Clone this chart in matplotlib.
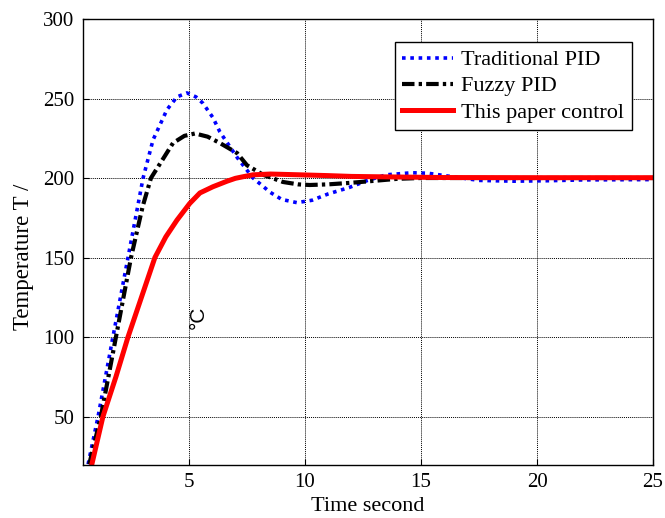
import matplotlib
matplotlib.use("Agg")
import matplotlib.pyplot as plt

# Traditional PID (blue dotted)
t_trad = [0.65, 1.08, 1.72, 2.37, 3.02, 3.45, 4.05, 4.48, 4.91, 5.3, 5.6, 6.03, 6.33, 7.07, 7.76, 8.5, 9.0, 9.65,
          10.3, 11.0, 11.9, 12.7, 13.5, 14.6, 15.3, 16.5, 17.5, 19.0, 20.5, 22.0, 25.0]
y_trad = [20, 50, 100, 150, 200, 224, 243, 251, 253.5, 251, 247, 238, 229, 213, 200, 191, 186.5, 184.5,
          186, 190, 194, 198.5, 202, 203.3, 203, 200.5, 198.5, 198, 198.3, 198.8, 199]

# Fuzzy PID (black dash-dot)
t_fuzzy = [0.7, 1.2, 1.85, 2.5, 3.0, 3.36, 3.75, 4.31, 4.8, 5.26, 5.8, 6.33, 7.07, 7.5, 8.2, 9.05, 9.7, 10.2,
           11.0, 12.0, 13.2, 14.0, 15.0, 17.0, 20.0, 25.0]
y_fuzzy = [20, 50, 100, 150, 182, 200, 209, 222, 226.5, 228, 226, 222, 215.7, 208, 202, 197.5, 196, 195.6,
           196, 197, 198.5, 199.5, 200, 200, 200, 200]

# This paper control (red solid)
t_paper = [0.78, 1.29, 1.85, 2.37, 2.95, 3.53, 4.0, 4.48, 5.03, 5.47, 6.03, 6.64, 7.0, 7.33, 7.76, 8.5, 9.78,
           11.0, 12.0, 14.1, 16.0, 20.0, 25.0]
y_paper = [18, 50, 75, 100, 125, 150, 163, 173.5, 184, 190.6, 194.5, 198, 199.8, 200.8, 202, 202.5, 202,
           201.5, 201, 200.6, 200.3, 200.2, 200.2]

xticks = [5, 10, 15, 20, 25]
yticks = [50, 100, 150, 200, 250, 300]

plt.rcParams['font.family'] = ['Liberation Serif', 'DejaVu Serif']

W, H = 665, 518
L, R, T, B = 83, 653, 19, 465
fig = plt.figure(figsize=(W/100, H/100), dpi=100)
ax = fig.add_axes([L/W, 1 - B/H, (R-L)/W, (B-T)/H])

ax.plot(t_trad, y_trad, color='#0000ff', linestyle=(0, (1, 1.3)), linewidth=2.6, label='Traditional PID')
ax.plot(t_fuzzy, y_fuzzy, color='black', linestyle=(0, (3, 1, 0.8, 1)), linewidth=3.0, label='Fuzzy PID')
ax.plot(t_paper, y_paper, color='#ff0000', linestyle='-', linewidth=3.6, label='This paper control')

ax.set_xlim(0.43, 25)
ax.set_ylim(19.5, 300)
ax.set_xticks(xticks)
ax.set_yticks(yticks)
ax.tick_params(labelsize=15, direction='in', length=4, width=0.8, pad=6)
ax.grid(True, color='black', linestyle=(0, (1, 1)), linewidth=0.7)
for s in ax.spines.values():
    s.set_linewidth(1.0)
    s.set_color('black')

ax.set_xlabel('Time second', fontsize=16, labelpad=3.5)
ax.set_ylabel('Temperature T /', fontsize=16.5)
ax.yaxis.set_label_coords((34 - L)/(R - L), 1 - (256.5 - T)/(B - T))

fig.text(204/W, 1 - 317/H, '°C', rotation=90, rotation_mode='anchor', ha='center', va='baseline',
         fontsize=15, family=['Liberation Sans', 'DejaVu Sans'])

leg = ax.legend(loc='upper right', bbox_to_anchor=((632-L)/(R-L), (B-42)/(B-T)), fontsize=16,
                frameon=True, fancybox=False, edgecolor='black', framealpha=1,
                handlelength=2.3, handletextpad=0.35, borderpad=0.35, labelspacing=0.25,
                borderaxespad=0)
leg.get_frame().set_linewidth(1.0)

fig.savefig('out.png', dpi=100)
